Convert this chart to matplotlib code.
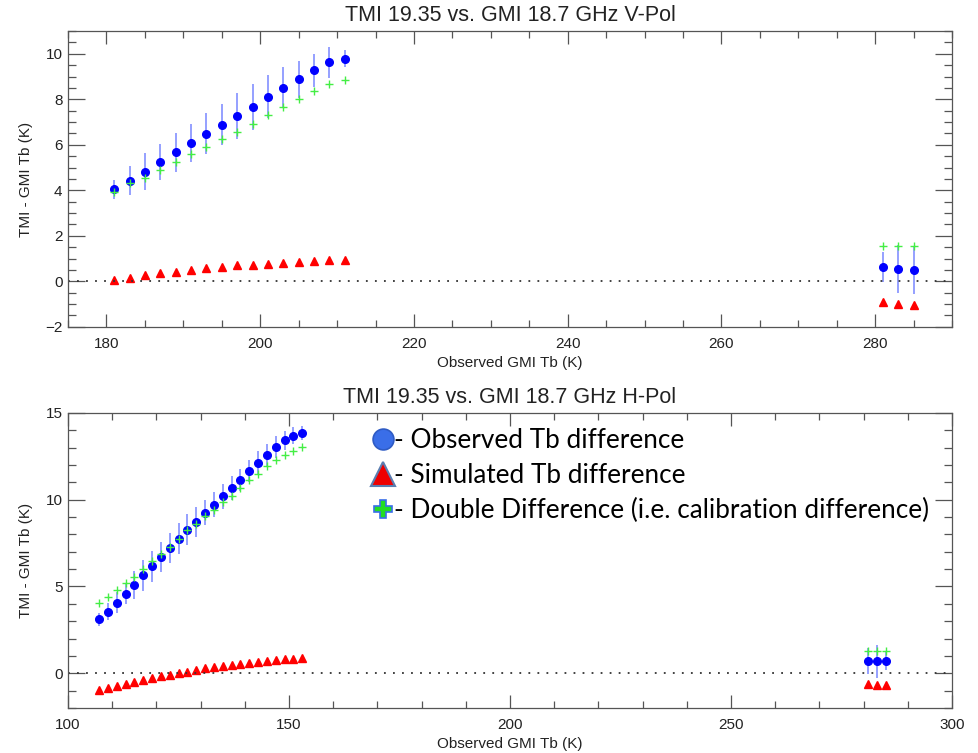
import matplotlib
matplotlib.use("Agg")
import matplotlib.pyplot as plt
from matplotlib.lines import Line2D
from matplotlib.ticker import MultipleLocator

# V-Pol panel
v_x = [181, 183, 185, 187, 189, 191, 193, 195, 197, 199, 201, 203, 205, 207, 209, 211, 281, 283, 285]
v_obs = [4.04, 4.43, 4.82, 5.24, 5.67, 6.09, 6.49, 6.89, 7.27, 7.67, 8.11, 8.52, 8.88, 9.28, 9.63, 9.79,
         0.63, 0.55, 0.50]
v_err = [0.40, 0.65, 0.80, 0.80, 0.85, 0.83, 0.90, 0.90, 1.00, 1.00, 0.95, 0.90, 0.82, 0.73, 0.67, 0.37,
         0.65, 1.05, 1.05]
v_sim = [0.07, 0.16, 0.26, 0.35, 0.41, 0.50, 0.57, 0.65, 0.70, 0.73, 0.76, 0.81, 0.87, 0.91, 0.94, 0.95,
         -0.91, -1.00, -1.06]
v_dd = [3.94, 4.30, 4.52, 4.89, 5.26, 5.59, 5.92, 6.24, 6.55, 6.92, 7.31, 7.68, 8.02, 8.37, 8.68, 8.84,
        1.54, 1.54, 1.54]

# H-Pol panel
h_x = [107, 109, 111, 113, 115, 117, 119, 121, 123, 125, 127, 129, 131, 133, 135, 137, 139, 141, 143,
       145, 147, 149, 151, 153, 281, 283, 285]
h_obs = [3.11, 3.55, 4.07, 4.59, 5.09, 5.64, 6.16, 6.70, 7.22, 7.75, 8.27, 8.73, 9.25, 9.71, 10.19,
         10.67, 11.13, 11.65, 12.13, 12.57, 13.05, 13.42, 13.69, 13.84, 0.72, 0.70, 0.70]
h_err = [0.37, 0.50, 0.60, 0.62, 0.80, 0.90, 0.90, 0.85, 0.85, 0.90, 0.90, 0.85, 0.72, 0.72, 0.71,
         0.67, 0.65, 0.65, 0.69, 0.66, 0.65, 0.56, 0.50, 0.38, 0.75, 0.95, 0.50]
h_sim = [-0.98, -0.87, -0.73, -0.61, -0.50, -0.37, -0.30, -0.18, -0.10, -0.01, 0.10, 0.18, 0.30, 0.36,
         0.42, 0.48, 0.53, 0.60, 0.67, 0.69, 0.76, 0.82, 0.85, 0.86, -0.60, -0.65, -0.67]
h_dd = [4.05, 4.40, 4.78, 5.20, 5.57, 6.01, 6.47, 6.87, 7.27, 7.75, 8.23, 8.62, 9.04, 9.39, 9.85,
        10.23, 10.65, 11.11, 11.50, 11.92, 12.30, 12.59, 12.82, 13.01, 1.30, 1.30, 1.30]

legend_labels = ["- Observed Tb difference", "- Simulated Tb difference",
                 "- Double Difference (i.e. calibration difference)"]

plt.rcParams["font.family"] = ["Liberation Sans", "DejaVu Sans"]

fig = plt.figure(figsize=(9.79, 7.53), dpi=100)
ax1 = fig.add_axes([0.0695, 0.566, 0.903, 0.3927])
ax2 = fig.add_axes([0.0695, 0.0598, 0.903, 0.3918])

axis_col = "#555555"
text_col = "#222222"


def panel(ax, x, obs, err, sim, dd, title, xlim, ylim, xmaj, xmin, ymaj, ymin):
    ax.errorbar(x, obs, yerr=err, fmt="none", ecolor=(0.1, 0.2, 1.0, 0.5), elinewidth=1.3)
    ax.plot(x, obs, "o", color="#0000ff", ms=5.5, mec="#0000ff")
    ax.plot(x, dd, "+", color="#44ee44", ms=6, mew=1.0)
    ax.plot(x, sim, "^", color="#ff0000", ms=5.5, mec="#ff0000")
    ax.axhline(0, color="#333333", lw=1.3, ls=(0, (1, 4)))
    ax.set_xlim(xlim)
    ax.set_ylim(ylim)
    ax.xaxis.set_major_locator(MultipleLocator(xmaj))
    ax.xaxis.set_minor_locator(MultipleLocator(xmin))
    ax.yaxis.set_major_locator(MultipleLocator(ymaj))
    ax.yaxis.set_minor_locator(MultipleLocator(ymin))
    ax.tick_params(which="both", direction="in", top=True, right=True, colors=axis_col,
                   labelcolor=text_col, labelsize=11, width=0.9)
    ax.tick_params(axis="x", which="major", length=9.5, pad=7)
    ax.tick_params(axis="x", which="minor", length=5)
    ax.tick_params(axis="y", which="major", length=12, pad=4)
    ax.tick_params(axis="y", which="minor", length=6)
    for s in ax.spines.values():
        s.set_color(axis_col)
        s.set_linewidth(0.9)
    ax.set_title(title, fontsize=15.5, color=text_col, pad=7)
    ax.set_xlabel("Observed GMI Tb (K)", fontsize=11, color=text_col, labelpad=4)
    ax.set_ylabel("TMI - GMI Tb (K)", fontsize=11, color=text_col)
    ax.yaxis.set_label_coords(-0.04, 0.5)


panel(ax1, v_x, v_obs, v_err, v_sim, v_dd, "TMI 19.35 vs. GMI 18.7 GHz V-Pol",
      (175, 290), (-2, 11), 20, 5, 2, 0.5)
panel(ax2, h_x, h_obs, h_err, h_sim, h_dd, "TMI 19.35 vs. GMI 18.7 GHz H-Pol",
      (100, 300), (-2, 15), 50, 10, 5, 1)

handles = [
    Line2D([], [], ls="none", marker="o", ms=15, mfc="#3a6ee8", mec="#2e5bc4", mew=1.2),
    Line2D([], [], ls="none", marker="^", ms=17, mfc="#ee0000", mec="#5a7db0", mew=1.5),
    Line2D([], [], ls="none", marker="P", ms=13, mfc="#22dd22", mec="#3a6ee8", mew=1.2),
]
ax2.legend(handles, legend_labels, loc="upper left", bbox_to_anchor=(0.381, 0.431),
           bbox_transform=fig.transFigure, frameon=False,
           prop={"family": ["Lato", "DejaVu Sans"], "size": 18.8},
           handlelength=0.8, handletextpad=0.0, labelspacing=0.38, borderpad=0,
           borderaxespad=0)

fig.savefig("out.png", dpi=100)
